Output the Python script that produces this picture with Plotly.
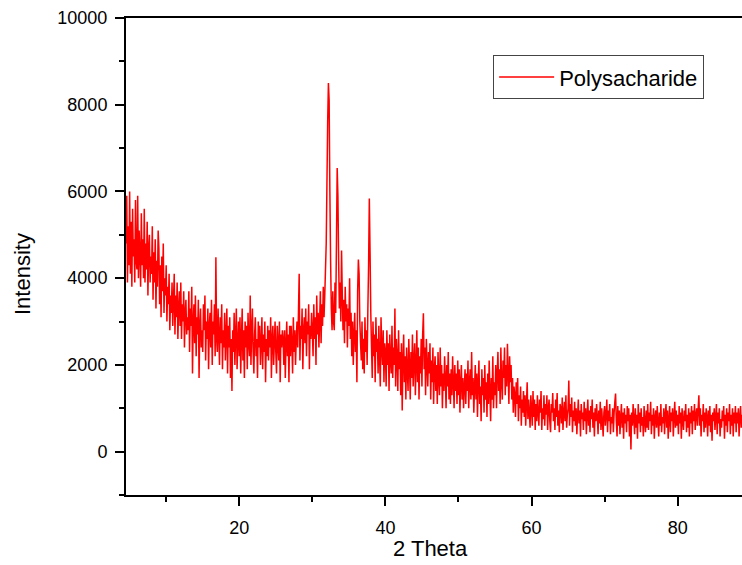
import numpy as np
import plotly.graph_objects as go

# 2-theta sampling: start angle and step (degrees)
theta_start = 4.5
theta_step = 0.1

# Intensity, one row per degree (first row 4.5-4.9)
intensity = [
    4800, 5900, 3900, 5200, 4300,
    6000, 4100, 5300, 3800, 5600, 4500, 4900, 3900, 5800, 4400,
    4200, 5900, 4000, 5100, 4600, 3800, 5500, 4300, 4900, 4000,
    5600, 3900, 4800, 4200, 5300, 3600, 4700, 5000, 3900, 4500,
    4100, 5200, 3500, 4600, 3900, 4900, 3300, 4400, 3800, 5100,
    4700, 3400, 4300, 3100, 4500, 3700, 4800, 3200, 4000, 3600,
    4300, 3000, 3800, 3400, 4100, 2800, 3600, 3200, 3900, 2900,
    3500, 4100, 2700, 3600, 3100, 3900, 2600, 3300, 3700, 2900,
    3900, 2600, 3400, 3000, 3700, 2400, 3200, 3500, 2700, 3100,
    2800, 3700, 2300, 3300, 2900, 3800, 1800, 3000, 3400, 2500,
    3600, 2200, 3100, 2700, 3500, 1700, 2900, 3300, 2400, 2800,
    2300, 3400, 2800, 3600, 2100, 3000, 2600, 3300, 1900, 2900,
    3200, 2400, 3500, 2000, 3000, 2700, 3400, 2200, 4480, 2600,
    2300, 3300, 2700, 2000, 3100, 2500, 3400, 1900, 2800, 2400,
    3200, 2100, 2700, 3300, 1800, 2900, 2400, 3100, 1700, 2600,
    1400, 2800, 2300, 3200, 2000, 2700, 3300, 1900, 2500, 3000,
    2200, 3100, 1800, 2600, 3300, 2100, 2800, 1700, 3000, 2400,
    2900, 1900, 3200, 2500, 2200, 3600, 2000, 2800, 3300, 2300,
    1800, 2700, 3100, 2200, 2600, 1700, 3000, 2400, 2900, 2000,
    2500, 3100, 1900, 2700, 2300, 3000, 1600, 2600, 2200, 2900,
    2100, 2800, 2400, 3100, 1700, 2600, 2900, 2000, 2500, 3000,
    2300, 1800, 2900, 2500, 2100, 3000, 1600, 2700, 2400, 2800,
    2600, 2000, 2800, 1700, 2500, 3000, 2200, 2700, 1600, 2900,
    2200, 2900, 2500, 1800, 3100, 2300, 2800, 2000, 2600, 3000,
    2400, 3200, 4100, 2100, 2900, 2600, 3300, 1900, 2800, 3100,
    2500, 3300, 2200, 3000, 2700, 3400, 1900, 2900, 2600, 3200,
    2800, 2200, 3400, 2600, 3100, 2000, 3600, 2700, 3200, 2400,
    3000, 3700, 2500, 3400, 2900, 3800, 3100, 3600, 4200, 4800,
    6200, 7600, 8500, 8100, 6000, 4400, 3300, 2800, 3700, 3000,
    2800, 3900, 3200, 4800, 6540, 5900, 4400, 3300, 3900, 3000,
    4640, 3600, 2800, 3500, 2500, 3800, 3000, 3400, 2400, 3300,
    2900, 4000, 2600, 3200, 2200, 3000, 2000, 2700, 3200, 2300,
    2800, 1600, 3700, 4430, 4100, 3000, 2500, 2100, 3000, 1900,
    2600, 1800, 3100, 2300, 2800, 2000, 3300, 4300, 5840, 4600,
    3200, 2400, 1700, 3000, 2200, 2700, 1600, 3100, 2300, 2600,
    1800, 2900, 2200, 1500, 3100, 2400, 2000, 2800, 1600, 2500,
    2300, 1500, 2800, 2000, 2500, 1400, 2700, 2100, 1800, 2900,
    1700, 2400, 2000, 3300, 1500, 2600, 2200, 1400, 2800, 1900,
    2300, 1300, 2500, 950, 2100, 2700, 1600, 2200, 1200, 2400,
    1900, 1400, 2600, 2000, 1200, 2300, 1700, 2700, 1500, 2100,
    2500, 1300, 2000, 2800, 1600, 2400, 1200, 2200, 1800, 2600,
    1500, 2700, 3190, 1900, 2400, 1300, 2600, 2000, 1500, 2300,
    1800, 2500, 1200, 2100, 1600, 2400, 1100, 1900, 2200, 1400,
    2000, 1100, 2300, 1700, 1300, 2400, 1500, 2000, 1000, 1800,
    1400, 2200, 1700, 1000, 2000, 1500, 2300, 1200, 1800, 1100,
    1900, 1300, 2200, 1600, 1000, 2000, 1400, 1800, 1100, 2100,
    1300, 1900, 900, 1600, 2000, 1200, 1700, 1000, 1500, 1900,
    1100, 1800, 1400, 2100, 1000, 1600, 1900, 1200, 2300, 1300,
    1700, 900, 1500, 2000, 1200, 1800, 800, 1600, 2100, 1100,
    1500, 700, 1900, 1300, 1700, 900, 2000, 1200, 1600, 800,
    1800, 1100, 2100, 1400, 700, 1700, 1200, 2200, 1000, 1600,
    1300, 2000, 1000, 1800, 2300, 1400, 1900, 1100, 2400, 1600,
    1200, 2100, 1700, 2400, 1300, 2000, 1500, 2490, 1800, 1100,
    2200, 1600, 2000, 1200, 1700, 900, 1500, 1300, 800, 1600,
    1100, 1700, 700, 1300, 1000, 1500, 600, 1200, 900, 1400,
    800, 1300, 600, 1100, 1600, 750, 1200, 900, 550, 1300,
    1000, 600, 1400, 800, 1200, 500, 1100, 700, 1300, 900,
    600, 1200, 900, 1400, 500, 1000, 750, 1300, 600, 1100,
    850, 1300, 500, 1000, 1200, 700, 450, 1100, 900, 1350,
    700, 1000, 500, 1200, 800, 1350, 600, 950, 450, 1100,
    1000, 650, 1250, 500, 900, 1150, 700, 1300, 550, 850,
    1000, 1640, 600, 1100, 800, 1250, 450, 950, 700, 1150,
    600, 1000, 400, 850, 1200, 650, 950, 350, 1100, 750,
    900, 500, 1150, 700, 1000, 400, 850, 1200, 600, 950,
    450, 1050, 750, 1200, 550, 900, 350, 1000, 700, 1100,
    800, 400, 950, 650, 1150, 500, 1000, 700, 350, 900,
    1050, 600, 850, 1200, 450, 950, 700, 1100, 400, 800,
    650, 1000, 450, 900, 1150, 1340, 700, 350, 1050, 600,
    950, 400, 800, 1100, 550, 900, 300, 1000, 650, 850,
    450, 1050, 700, 1000, 350, 850, 50, 900, 600, 1100,
    750, 400, 1000, 550, 850, 300, 1100, 650, 900, 450,
    1000, 600, 800, 350, 1050, 700, 450, 950, 550, 1100,
    500, 900, 700, 1150, 400, 850, 600, 1000, 300, 800,
    950, 550, 1050, 700, 350, 900, 600, 1100, 450, 800,
    650, 1000, 400, 850, 1100, 550, 950, 300, 750, 1050,
    450, 900, 700, 1000, 350, 800, 1150, 550, 950, 600,
    850, 400, 1050, 650, 900, 300, 1000, 700, 500, 950,
    700, 1100, 450, 850, 550, 1000, 350, 900, 650, 1050,
    400, 950, 700, 1100, 500, 850, 1000, 600, 1000, 1300,
    600, 1000, 350, 850, 700, 1100, 450, 900, 550, 1000,
    800, 350, 950, 600, 1050, 450, 850, 250, 900, 700,
    1000, 500, 800, 1100, 400, 900, 650, 1000, 350, 750,
    550, 950, 700, 1050, 300, 850, 600, 1000, 450, 900,
    700, 1100, 400, 850, 600, 1000, 350, 900, 650, 1050,
    450, 900, 650, 1000, 350, 800, 1050, 550, 850,
]

two_theta = np.round(theta_start + theta_step * np.arange(len(intensity)), 2)

x_ticks = [20, 40, 60, 80]
y_ticks = [0, 2000, 4000, 6000, 8000, 10000]
y_tick_labels = ["0", "2000", "4000", "6000", "8000", "10000"]

FONT = "Liberation Sans, Arial, sans-serif"

fig = go.Figure()
fig.add_trace(go.Scatter(
    x=two_theta, y=intensity, mode="lines", name="Polysacharide",
    line=dict(color="#ff0000", width=1.5, simplify=False),
))

axis_common = dict(
    showgrid=False, zeroline=False, showline=True, linecolor="black",
    linewidth=2, ticks="outside", ticklen=9, tickwidth=1.5, tickcolor="black",
    tickfont=dict(family=FONT, size=18, color="black"),
)

fig.update_xaxes(
    range=[4.5, 88.8], tickvals=x_ticks, mirror=True,
    minor=dict(dtick=10, tick0=0, ticks="outside", ticklen=5, tickwidth=1.5, tickcolor="black"),
    ticklabelstandoff=6,
    **axis_common,
)
fig.update_yaxes(
    range=[-1000, 10000], tickvals=y_ticks, ticktext=y_tick_labels,
    minor=dict(dtick=1000, tick0=0, ticks="outside", ticklen=5, tickwidth=1.5, tickcolor="black"),
    ticklabelstandoff=4,
    **axis_common,
)

fig.update_layout(
    width=742, height=565,
    margin=dict(l=126, r=0, t=18, b=70),
    paper_bgcolor="white", plot_bgcolor="white",
    showlegend=True,
    legend=dict(
        x=0.596, y=0.922, xanchor="left", yanchor="top",
        bgcolor="white", bordercolor="#444444", borderwidth=1,
        itemwidth=55,
        font=dict(family=FONT, size=22, color="black"),
    ),
    annotations=[
        dict(text="2 Theta", xref="paper", yref="paper", x=0.494, y=-0.112,
             xanchor="center", yanchor="middle", showarrow=False,
             font=dict(family=FONT, size=22, color="black")),
        dict(text="Intensity", xref="paper", yref="paper", x=-0.169, y=0.463,
             xanchor="center", yanchor="middle", showarrow=False, textangle=-90,
             font=dict(family=FONT, size=22, color="black")),
    ],
)

fig.write_html("out.html")
